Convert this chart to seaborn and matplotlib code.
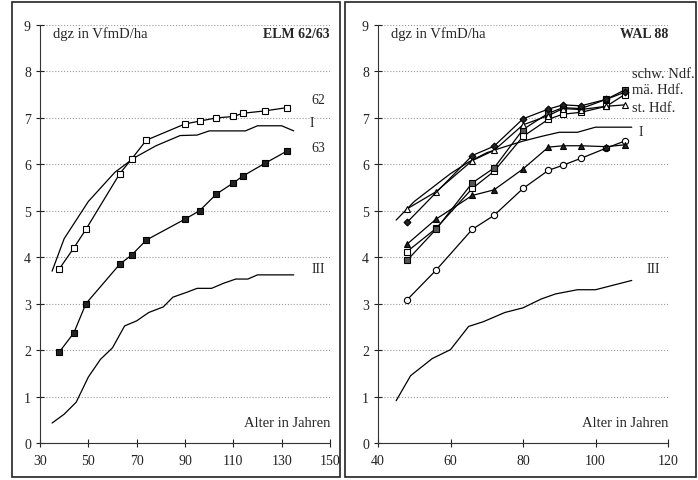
import numpy as np
import pandas as pd
import seaborn as sns
import matplotlib.pyplot as plt
from matplotlib.patches import Rectangle

# ---- ELM 62/63 (left) ----
elm_age = [38, 44, 49, 63, 68, 74, 90, 96, 103, 110, 114, 123, 132]
elm_62 = [3.75, 4.2, 4.6, 5.8, 6.12, 6.52, 6.87, 6.93, 7.0, 7.03, 7.1, 7.15, 7.22]
elm_63 = [1.96, 2.37, 3.0, 3.85, 4.05, 4.37, 4.82, 5.0, 5.36, 5.6, 5.75, 6.02, 6.28]

elm_I_age = [35, 40, 50, 61, 69, 78, 88, 95, 100, 115, 120, 130, 135]
elm_I = [3.7, 4.4, 5.2, 5.83, 6.14, 6.4, 6.62, 6.63, 6.72, 6.72, 6.83, 6.83, 6.72]

elm_III_age = [35, 40, 45, 50, 55, 60, 65, 70, 75, 81, 85, 91, 95, 101, 106, 111, 116, 120, 135]
elm_III = [0.43, 0.62, 0.88, 1.42, 1.8, 2.05, 2.52, 2.63, 2.81, 2.93, 3.14, 3.25, 3.33, 3.33,
           3.44, 3.53, 3.53, 3.62, 3.62]

# ---- WAL 88 (right) ----
wal_age = [48, 56, 66, 72, 80, 87, 91, 96, 103, 108]
wal_diamond_age = [48, 66, 72, 80, 87, 91, 96, 103, 108]
wal_diamond = [4.75, 6.19, 6.39, 6.98, 7.19, 7.28, 7.26, 7.4, 7.55]
wal_open_tri = [5.04, 5.41, 6.08, 6.3, 6.85, 7.05, 7.2, 7.18, 7.25, 7.28]
wal_fill_sq = [3.93, 4.6, 5.6, 5.92, 6.75, 7.1, 7.22, 7.2, 7.4, 7.6]
wal_open_sq = [4.12, 4.62, 5.48, 5.85, 6.6, 6.97, 7.08, 7.12, 7.25, 7.5]
wal_fill_tri = [4.28, 4.82, 5.33, 5.45, 5.9, 6.37, 6.4, 6.4, 6.38, 6.42]
wal_circle = [3.08, 3.72, 4.6, 4.9, 5.48, 5.87, 5.98, 6.13, 6.35, 6.5]

wal_I_age = [45, 50, 55, 60, 65, 70, 75, 80, 85, 90, 95, 100, 110]
wal_I = [4.8, 5.2, 5.5, 5.8, 6.05, 6.25, 6.38, 6.5, 6.6, 6.69, 6.69, 6.8, 6.8]

wal_III_age = [45, 49, 55, 60, 65, 69, 75, 80, 85, 89, 95, 100, 110]
wal_III = [0.91, 1.45, 1.82, 2.01, 2.51, 2.61, 2.81, 2.91, 3.1, 3.21, 3.3, 3.3, 3.5]

sns.set_style("white")
plt.rcParams['font.family'] = ['Liberation Serif', 'DejaVu Serif']

fig = plt.figure(figsize=(6.98, 4.81), dpi=100)
ax1 = fig.add_axes([40 / 698, 37 / 481, 290 / 698, 418 / 481])
ax2 = fig.add_axes([378 / 698, 37 / 481, 290 / 698, 418 / 481])

# panel frames
fig.patches.append(Rectangle((12 / 698, 3 / 481), 328 / 698, 475 / 481, transform=fig.transFigure,
                             fill=False, edgecolor='#222222', linewidth=1.2))
fig.patches.append(Rectangle((345 / 698, 3 / 481), 351 / 698, 475 / 481, transform=fig.transFigure,
                             fill=False, edgecolor='#222222', linewidth=1.2))

lw = 0.9


def line(ax, x, y, marker=None, face='black', ms=4.5):
    kw = dict(color='black', linewidth=lw, sort=False, ax=ax)
    if marker:
        kw.update(marker=marker, markersize=ms, markerfacecolor=face,
                  markeredgecolor='black', markeredgewidth=0.8)
    sns.lineplot(x=x, y=y, **kw)


# left panel
line(ax1, elm_I_age, elm_I)
line(ax1, elm_III_age, elm_III)
line(ax1, elm_age, elm_62, 's', 'white')
line(ax1, elm_age, elm_63, 's', '#222222')

# right panel
line(ax2, wal_I_age, wal_I)
line(ax2, wal_III_age, wal_III)
line(ax2, wal_age, wal_circle, 'o', 'white', 4.5)
line(ax2, wal_age, wal_fill_tri, '^', '#222222', 4.5)
line(ax2, wal_age, wal_open_sq, 's', 'white', 4.5)
line(ax2, wal_age, wal_fill_sq, 's', '#555555', 4.5)
line(ax2, wal_age, wal_open_tri, '^', 'white', 5)
line(ax2, wal_diamond_age, wal_diamond, 'D', '#222222', 3.5)

for ax, xmin, xmax, step in [(ax1, 30, 150, 20), (ax2, 40, 120, 20)]:
    ax.set_xlim(xmin, xmax)
    ax.set_ylim(0, 9)
    ax.set_xticks(range(xmin, xmax + 1, step))
    ax.set_yticks(range(0, 10))
    ax.set_xlabel('')
    ax.set_ylabel('')
    for s in ['top', 'right']:
        ax.spines[s].set_visible(False)
    for s in ['left', 'bottom']:
        ax.spines[s].set_color('#333333')
        ax.spines[s].set_linewidth(0.8)
    ax.yaxis.grid(True, linestyle=':', color='#999999', linewidth=0.8)
    ax.xaxis.grid(False)
    ax.tick_params(axis='both', direction='inout', length=6, width=0.8,
                   labelsize=10, colors='#222222', left=True, bottom=True)
    ax.tick_params(axis='x', pad=5)
    ax.set_facecolor('none')
    ax.text(xmax, 0.45, 'Alter in Jahren', ha='right', va='center', fontsize=10.5)

ax1.text(35.5, 8.82, 'dgz in VfmD/ha', ha='left', va='center', fontsize=10.5)
ax1.text(150, 8.82, 'ELM 62/63', ha='right', va='center', fontsize=10, fontweight='bold')
ax1.text(142.5, 7.4, '62', ha='left', va='center', fontsize=10)
ax1.text(141.5, 6.9, 'I', ha='left', va='center', fontsize=10)
ax1.text(142.5, 6.37, '63', ha='left', va='center', fontsize=10)
ax1.text(142.5, 3.75, 'III', ha='left', va='center', fontsize=10)

ax2.text(43.5, 8.82, 'dgz in VfmD/ha', ha='left', va='center', fontsize=10.5)
ax2.text(120, 8.82, 'WAL 88', ha='right', va='center', fontsize=10, fontweight='bold')
ax2.text(110.2, 7.95, 'schw. Ndf.', ha='left', va='center', fontsize=10.5, clip_on=False)
ax2.text(110.2, 7.62, 'mä. Hdf.', ha='left', va='center', fontsize=10.5, clip_on=False)
ax2.text(110.2, 7.22, 'st. Hdf.', ha='left', va='center', fontsize=10.5, clip_on=False)
ax2.text(112, 6.7, 'I', ha='left', va='center', fontsize=10)
ax2.text(114, 3.75, 'III', ha='left', va='center', fontsize=10)

fig.savefig('out.png', dpi=100)
